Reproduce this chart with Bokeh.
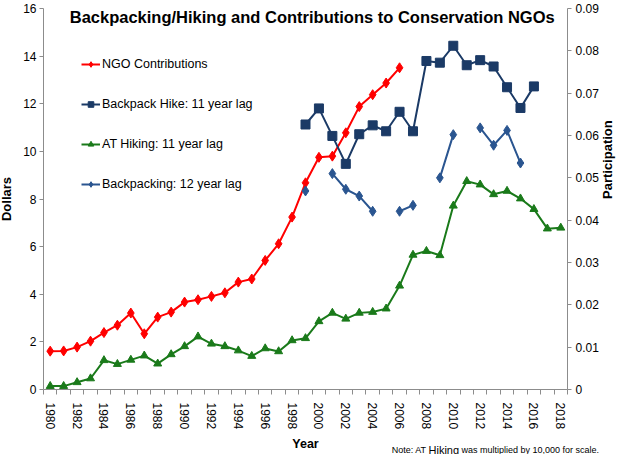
import math
from bokeh.plotting import figure
from bokeh.models import (Range1d, FixedTicker, NumeralTickFormatter, LinearAxis,
                          Legend, LegendItem, Label, ColumnDataSource)
from bokeh.embed import file_html
from bokeh.resources import INLINE

nan = float("nan")

# ---- data ----
ngo_years = list(range(1980, 2007))
ngo_dollars = [1.61, 1.62, 1.78, 2.03, 2.39, 2.70, 3.21, 2.34, 3.04, 3.25,
               3.67, 3.77, 3.91, 4.06, 4.51, 4.64, 5.42, 6.12, 7.24, 8.68,
               9.75, 9.80, 10.78, 11.88, 12.38, 12.87, 13.51]

bph_years = list(range(1999, 2017))
backpack_hike = [0.0626, 0.0664, 0.0599, 0.0533, 0.0603, 0.0624, 0.0610, 0.0656,
                 0.0610, 0.0776, 0.0772, 0.0812, 0.0766, 0.0778, 0.0763, 0.0714,
                 0.0665, 0.0716]

bp_years = list(range(1999, 2016))
backpacking = [0.0469, nan, 0.0510, 0.0473, 0.0457, 0.0421, nan, 0.0421, 0.0435,
               nan, 0.0500, 0.0602, nan, 0.0618, 0.0577, 0.0612, 0.0535]

at_years = list(range(1980, 2019))
at_hiking = [0.0008, 0.0008, 0.0017, 0.0026, 0.0069, 0.0060, 0.0070, 0.0080,
             0.0061, 0.0083, 0.0102, 0.0125, 0.0108, 0.0102, 0.0092, 0.0079,
             0.0097, 0.0090, 0.0116, 0.0121, 0.0161, 0.0181, 0.0167, 0.0181,
             0.0183, 0.0191, 0.0245, 0.0318, 0.0327, 0.0317, 0.0434, 0.0492,
             0.0484, 0.0461, 0.0469, 0.0451, 0.0426, 0.0380, 0.0382]

dollar_ticks = list(range(0, 17, 2))
part_ticks = [i / 100 for i in range(10)]
year_ticks = list(range(1980, 2019, 2))

# ---- layout constants (pixels) ----
W, H = 628, 454
PL, PR, PT, PB = 43, 567, 8, 389          # plotting area edges on the canvas
X0, X1 = 1979.5, 2018.5                   # category span
Y0, Y1 = 0.0, 16.0                        # dollars
P0, P1 = 0.0, 0.09                        # participation

xs = (PR - PL) / (X1 - X0)
ys = (PB - PT) / (Y1 - Y0)
x_start = X0 - PL / xs
x_end = X1 + (W - PR) / xs
y_start = Y0 - (H - PB) / ys
y_end = Y1 + PT / ys
k = (P1 - P0) / (Y1 - Y0)

AXIS_COLOR = "#8c8c8c"
RED = "#ff0000"
NAVY = "#1b3a66"
GREEN = "#1a7a1a"
BLUE = "#2a5590"
FONT = "Liberation Sans"

p = figure(width=W, height=H, output_backend="svg", toolbar_location=None,
           title=None,
           x_range=Range1d(x_start, x_end), y_range=Range1d(y_start, y_end),
           min_border=0, min_border_left=0, min_border_right=0,
           min_border_top=0, min_border_bottom=0)
p.extra_y_ranges = {"part": Range1d(P0 + y_start * k, P0 + y_end * k)}
p.outline_line_color = None
p.xgrid.grid_line_color = None
p.ygrid.grid_line_color = None
p.background_fill_color = "white"

# x axis (drawn at y = 0)
xa = p.xaxis[0]
xa.fixed_location = Y0
xa.bounds = (X0, X1)
xa.ticker = FixedTicker(ticks=year_ticks, minor_ticks=[y + 0.5 for y in range(1979, 2019)])
xa.major_tick_line_color = None
xa.major_tick_out = 5
xa.major_tick_in = 0
xa.minor_tick_in = 0
xa.minor_tick_out = 5
xa.minor_tick_line_color = AXIS_COLOR
xa.axis_line_color = AXIS_COLOR
xa.major_label_orientation = "vertical"
xa.major_label_standoff = 8
xa.major_label_text_font = FONT
xa.major_label_text_font_size = "12px"
xa.major_label_text_color = "black"

# left axis (drawn at the first category edge)
ya = p.yaxis[0]
ya.fixed_location = X0
ya.bounds = (Y0, Y1)
ya.ticker = FixedTicker(ticks=dollar_ticks)
ya.major_tick_in = 0
ya.major_tick_out = 4
ya.minor_tick_line_color = None
ya.major_tick_line_color = AXIS_COLOR
ya.axis_line_color = AXIS_COLOR
ya.major_label_standoff = 3
ya.major_label_text_font = FONT
ya.major_label_text_font_size = "12px"
ya.major_label_text_color = "black"
ya.axis_label = "Dollars"
ya.axis_label_standoff = 6
ya.axis_label_text_font = FONT
ya.axis_label_text_font_style = "bold"
ya.axis_label_text_font_size = "13px"
ya.axis_label_text_color = "black"

# right axis (drawn at the last category edge)
ra = LinearAxis(y_range_name="part", ticker=FixedTicker(ticks=part_ticks),
                formatter=NumeralTickFormatter(format="0.[00]"))
ra.fixed_location = X1
ra.bounds = (P0, P1)
ra.major_tick_in = 0
ra.major_tick_out = 4
ra.minor_tick_line_color = None
ra.major_tick_line_color = AXIS_COLOR
ra.axis_line_color = AXIS_COLOR
ra.major_label_standoff = 4
ra.major_label_text_font = FONT
ra.major_label_text_font_size = "12px"
ra.major_label_text_color = "black"
ra.axis_label = "Participation"
ra.axis_label_orientation = math.pi / 2
ra.axis_label_standoff = 6
ra.axis_label_text_font = FONT
ra.axis_label_text_font_style = "bold"
ra.axis_label_text_font_size = "13px"
ra.axis_label_text_color = "black"
p.add_layout(ra, "right")

# ---- series ----
src_ngo = ColumnDataSource(dict(x=ngo_years, y=ngo_dollars))
src_bph = ColumnDataSource(dict(x=bph_years, y=backpack_hike))
src_bp = ColumnDataSource(dict(x=bp_years, y=backpacking))
src_at = ColumnDataSource(dict(x=at_years, y=at_hiking))

l_ngo = p.line("x", "y", source=src_ngo, line_color=RED, line_width=2)
s_ngo = p.scatter("x", "y", source=src_ngo, marker="diamond", size=10,
                  fill_color=RED, line_color=RED)

l_bph = p.line("x", "y", source=src_bph, line_color=NAVY, line_width=2, y_range_name="part")
s_bph = p.scatter("x", "y", source=src_bph, marker="square", size=9,
                  fill_color=NAVY, line_color=NAVY, y_range_name="part")

l_at = p.line("x", "y", source=src_at, line_color=GREEN, line_width=2, y_range_name="part")
s_at = p.scatter("x", "y", source=src_at, marker="triangle", size=8,
                 fill_color=GREEN, line_color=GREEN, y_range_name="part")

l_bp = p.line("x", "y", source=src_bp, line_color=BLUE, line_width=2, y_range_name="part")
s_bp = p.scatter("x", "y", source=src_bp, marker="diamond", size=10,
                 fill_color=BLUE, line_color=BLUE, y_range_name="part")

legend = Legend(items=[
    LegendItem(label="NGO Contributions", renderers=[l_ngo, s_ngo]),
    LegendItem(label="Backpack Hike: 11 year lag", renderers=[l_bph, s_bph]),
    LegendItem(label="AT Hiking: 11 year lag", renderers=[l_at, s_at]),
    LegendItem(label="Backpacking: 12 year lag", renderers=[l_bp, s_bp]),
], location=(81, H - 191), glyph_width=19, glyph_height=14, label_height=14,
   label_standoff=2, spacing=26, padding=0, margin=0,
   border_line_color=None, background_fill_alpha=0,
   label_text_font=FONT, label_text_font_size="12.5px", label_text_color="black")
p.add_layout(legend)

# ---- texts ----
p.add_layout(Label(x=314, y=H - 16, x_units="screen", y_units="screen",
                   text="Backpacking/Hiking  and Contributions to Conservation NGOs",
                   text_align="center", text_baseline="middle",
                   text_font=FONT, text_font_style="bold", text_font_size="16.5px",
                   text_color="black"))
p.add_layout(Label(x=(PL + PR) / 2, y=H - 443, x_units="screen", y_units="screen",
                   text="Year", text_align="center", text_baseline="middle",
                   text_font=FONT, text_font_style="bold", text_font_size="12.5px",
                   text_color="black"))
p.add_layout(Label(x=426, y=H - 449, x_units="screen", y_units="screen",
                   text="Note: AT", text_align="right", text_baseline="alphabetic",
                   text_font=FONT, text_font_size="9px", text_color="black"))
p.add_layout(Label(x=428, y=H - 449, x_units="screen", y_units="screen",
                   text="Hiking", text_align="left", text_baseline="alphabetic",
                   text_font=FONT, text_font_size="11px", text_color="black"))
p.add_layout(Label(x=461, y=H - 449, x_units="screen", y_units="screen",
                   text="was multiplied by 10,000 for scale.", text_align="left",
                   text_baseline="alphabetic",
                   text_font=FONT, text_font_size="9px", text_color="black"))

open("out.html", "w").write(file_html(p, INLINE))
